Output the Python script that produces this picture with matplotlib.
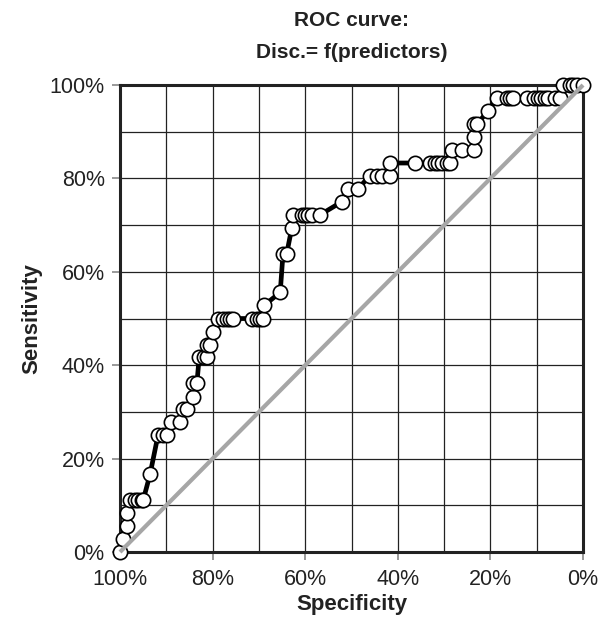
import numpy as np
import matplotlib
matplotlib.use("Agg")
import matplotlib.pyplot as plt
from matplotlib.ticker import MultipleLocator, FuncFormatter

plt.rcParams['font.family'] = ['Liberation Sans', 'DejaVu Sans']

# ROC points (percent)
specificity = [100, 99.4, 98.6, 98.6,
               97.9, 96.8, 96.1, 95.2, 95.0,
               93.5,
               91.8, 90.7, 89.8,
               89.0, 87.0,
               86.4, 85.5,
               84.2,
               84.2, 83.4,
               82.9, 81.9, 81.2,
               81.2, 80.6,
               79.9,
               78.8, 77.8, 76.9, 76.2, 75.6, 71.5, 70.4, 69.8, 69.1,
               68.9,
               65.4,
               64.8, 64.0,
               62.9,
               62.6, 60.7, 60.0, 59.4, 58.5, 56.8,
               52.1,
               50.8, 48.6,
               46.0, 44.5, 43.4, 41.7,
               41.7, 36.3, 33.0, 32.0, 31.3, 30.5, 29.4, 28.7,
               28.3, 26.1, 23.5,
               23.5,
               23.5, 22.9,
               20.5,
               18.6, 16.4, 15.8, 15.1, 12.2, 10.5, 9.7, 9.0, 8.3, 7.6, 6.0, 5.0,
               4.3, 2.8, 2.2, 1.3, 0.0]
sensitivity = [0, 2.8, 5.6, 8.3,
               11.1, 11.1, 11.1, 11.1, 11.1,
               16.7,
               25.0, 25.0, 25.0,
               27.8, 27.8,
               30.6, 30.6,
               33.3,
               36.1, 36.1,
               41.7, 41.7, 41.7,
               44.4, 44.4,
               47.2,
               50.0, 50.0, 50.0, 50.0, 50.0, 50.0, 50.0, 50.0, 50.0,
               52.8,
               55.6,
               63.9, 63.9,
               69.4,
               72.2, 72.2, 72.2, 72.2, 72.2, 72.2,
               75.0,
               77.8, 77.8,
               80.6, 80.6, 80.6, 80.6,
               83.3, 83.3, 83.3, 83.3, 83.3, 83.3, 83.3, 83.3,
               86.1, 86.1, 86.1,
               88.9,
               91.7, 91.7,
               94.4,
               97.2, 97.2, 97.2, 97.2, 97.2, 97.2, 97.2, 97.2, 97.2, 97.2, 97.2, 97.2,
               100, 100, 100, 100, 100]

diag_spec = [100, 0]
diag_sens = [0, 100]

fig = plt.figure(figsize=(6.13, 6.22), dpi=100)
ax = fig.add_axes([0.1958, 0.1125, 0.7553, 0.7508])

ax.plot(specificity, sensitivity, color='black', lw=3.4, marker='o',
        markersize=10.3, markerfacecolor='white', markeredgecolor='black',
        markeredgewidth=1.2, zorder=3, clip_on=False)
ax.plot(diag_spec, diag_sens, color='#a6a6a6', lw=3, zorder=4,
        solid_capstyle='butt', clip_on=False)

ax.set_xlim(100, 0)
ax.set_ylim(0, 100)
ax.xaxis.set_major_locator(MultipleLocator(20))
ax.yaxis.set_major_locator(MultipleLocator(20))
ax.xaxis.set_minor_locator(MultipleLocator(10))
ax.yaxis.set_minor_locator(MultipleLocator(10))
pct = FuncFormatter(lambda v, p: "%d%%" % round(v))
ax.xaxis.set_major_formatter(pct)
ax.yaxis.set_major_formatter(pct)
ax.grid(True, which='both', color='#222222', lw=0.9, zorder=0)
ax.set_axisbelow(True)
ax.tick_params(which='major', direction='out', length=6, width=1.2,
               color='#888888', labelsize=15.5, labelcolor='#222222', pad=5)
ax.tick_params(axis='x', which='major', pad=6)
ax.tick_params(which='minor', length=0)
for s in ax.spines.values():
    s.set_linewidth(2.2)
    s.set_color('#222222')

ax.set_xlabel("Specificity", fontsize=16, fontweight='bold', color='#222222',
              labelpad=3)
ax.set_ylabel("Sensitivity", fontsize=16, fontweight='bold', color='#222222',
              labelpad=5)

fig.text(0.5734, 1 - 21 / 622, "ROC curve:", ha='center', va='center',
         fontsize=15, fontweight='bold', color='#222222')
fig.text(0.5734, 1 - 53 / 622, "Disc.= f(predictors)", ha='center',
         va='center', fontsize=15, fontweight='bold', color='#222222')

fig.savefig("out.png", dpi=100)
